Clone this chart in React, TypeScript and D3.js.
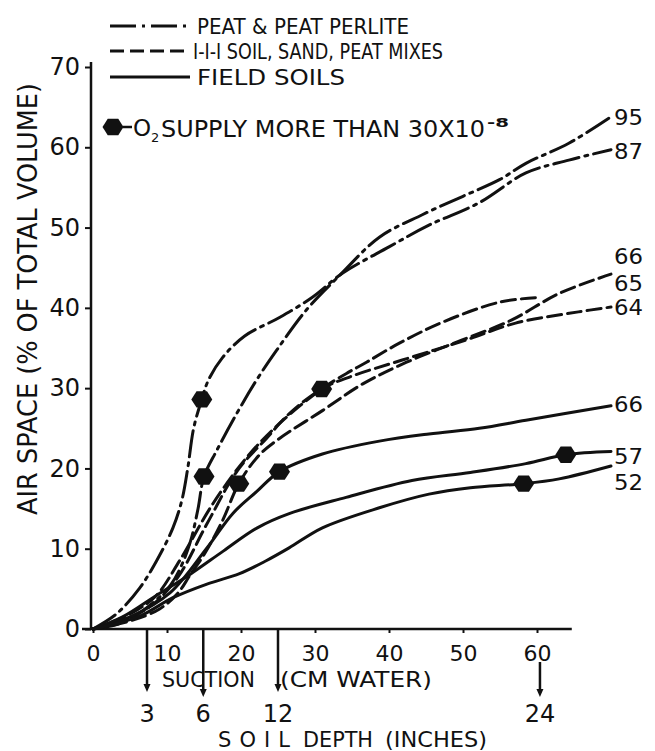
import React, { useEffect, useRef } from 'react';
import * as d3 from 'd3';

type Pt = [number, number];

// suction (cm water) -> air space (% of total volume)
const peat95: Pt[] = [
  [0, 0], [4, 0.8], [8, 3.2], [10.5, 5.5], [12, 8], [13.2, 11], [14.2, 15], [15, 19],
  [16.7, 22.2], [19.4, 26.8], [22.1, 31], [24.8, 34.7], [28.8, 39.7], [33.5, 44.2],
  [38.7, 48.8], [44.5, 51.6], [50, 53.9], [55, 56], [58.5, 58], [64.3, 60.5], [70, 63.8],
];
const peat87: Pt[] = [
  [0, 0], [3.2, 1.9], [6.3, 5.1], [8.6, 8.5], [10.8, 12.6], [12, 16], [12.8, 20], [13.6, 25],
  [14.7, 28.6], [15.6, 31], [17.5, 33.8], [20.5, 36.5], [25.2, 38.8], [29.6, 41.3],
  [33.7, 44.3], [40, 47.6], [45.4, 50.3], [52.2, 53.1], [58.5, 56.8], [64.3, 58.4], [70, 59.7],
];
const mix66: Pt[] = [
  [0, 0], [3, 1], [6, 2.4], [8.6, 4.2], [11.7, 8.5], [16.2, 15.6], [20.8, 21.4], [25.2, 25.6],
  [30.9, 29.9], [34.2, 31.8], [36.9, 33.2], [41.4, 35.6], [47.2, 38.2], [54.9, 40.7], [60.2, 41.3],
];
const mix65: Pt[] = [
  [0, 0], [5, 1], [9, 2.5], [11.5, 4.5], [13.1, 6.7], [15.1, 9.4], [17.5, 13.5], [19.7, 18.1],
  [22.3, 21.5], [25, 23.6], [31, 27.2], [36.4, 30.5], [42.3, 33.2], [49.9, 36], [56.6, 38.5],
  [63, 41.8], [70, 44.2],
];
const mix64: Pt[] = [
  [0, 0], [4, 1], [8, 3], [11.5, 6.5], [15.4, 13.1], [19.5, 19.7], [23.5, 23.8], [26.5, 26.8],
  [30.9, 29.9], [35, 31.5], [41.8, 33.5], [50.4, 36], [57.1, 38.1], [65.6, 39.5], [70, 40.1],
];
const field66: Pt[] = [
  [0, 0], [5, 1.5], [10.4, 4.5], [15.4, 10.1], [18.9, 14.4], [22.1, 17.1], [25.2, 19.6],
  [31, 21.8], [38.7, 23.4], [45.4, 24.3], [52.2, 25], [58.5, 26], [70, 27.8],
];
const field57: Pt[] = [
  [0, 0], [4, 1.5], [8.6, 4.2], [13.1, 6.8], [17.6, 9.7], [22.2, 12.6], [26.6, 14.4],
  [34.2, 16.4], [43.1, 18.5], [51, 19.5], [58.5, 20.6], [63.9, 21.7], [70, 22.1],
];
const field52: Pt[] = [
  [0, 0], [6.3, 1.6], [10.8, 3.9], [15.4, 5.6], [19.8, 6.9], [23.4, 8.5], [26.5, 10.1],
  [31, 12.6], [38.7, 15.1], [45.4, 16.8], [51, 17.6], [58.2, 18.1], [63, 18.7], [70, 20.3],
];

// O2 supply more than 30x10^-8
const o2Points: Pt[] = [
  [14.7, 28.6], [15, 19], [19.7, 18.1], [25.2, 19.6], [30.9, 29.9], [58.2, 18.1], [63.9, 21.7],
];

const rightLabels = ['95', '87', '66', '65', '64', '66', '57', '52'];
const rightLabelAt = [63.8, 59.5, 46.5, 43.1, 40.1, 28.0, 21.5, 18.3];

const legendLabels = ['PEAT & PEAT PERLITE', 'I-I-I SOIL, SAND, PEAT MIXES', 'FIELD SOILS'];

const xTicks = [0, 10, 20, 30, 40, 50, 60];
const yTicks = [0, 10, 20, 30, 40, 50, 60, 70];

// soil depth (inches) and the suction it corresponds to
const depthInches = [3, 6, 12, 24];
const depthSuction = [7.3, 14.9, 25, 60.4];

const DASH: Record<string, string> = { peat: '26,6,3,6', mix: '14,6', field: '' };

const series = [
  { kind: 'peat', points: peat95 },
  { kind: 'peat', points: peat87 },
  { kind: 'mix', points: mix66 },
  { kind: 'mix', points: mix65 },
  { kind: 'mix', points: mix64 },
  { kind: 'field', points: field66 },
  { kind: 'field', points: field57 },
  { kind: 'field', points: field52 },
];

const FONT = '"DejaVu Sans", "Liberation Sans", sans-serif';
const INK = '#111';

const hexPath = (r: number) => {
  const pts = d3.range(6).map(i => {
    const a = (Math.PI / 3) * i;
    return [r * Math.cos(a), r * 0.9 * Math.sin(a)];
  });
  return 'M' + pts.map(p => p.join(',')).join('L') + 'Z';
};

const App: React.FC = () => {
  const svgRef = useRef<SVGSVGElement>(null);

  useEffect(() => {
    if (!svgRef.current) return;
    const svg = d3.select(svgRef.current);
    svg.selectAll('*').remove();

    const x = d3.scaleLinear().domain([0, 70]).range([93, 611]);
    const y = d3.scaleLinear().domain([0, 70]).range([629, 67]);

    const txt = (sel: d3.Selection<SVGTextElement, unknown, null, undefined>, size: number) =>
      sel.attr('font-family', FONT).attr('font-size', size).attr('fill', INK);

    // Y axis
    const yAxis = svg.append('g')
      .attr('transform', 'translate(91,0)')
      .call(d3.axisLeft(y).tickValues(yTicks).tickSize(6).tickPadding(5).tickFormat(d => String(d)));
    yAxis.select('.domain').remove();
    yAxis.selectAll('line').attr('stroke', INK).attr('stroke-width', 2);
    yAxis.selectAll('text').attr('font-family', FONT).attr('font-size', 24).attr('fill', INK);
    svg.append('line')
      .attr('x1', 91).attr('x2', 91)
      .attr('y1', y(0) + 1).attr('y2', y(70) - 5)
      .attr('stroke', INK).attr('stroke-width', 2.5);

    // X axis
    const xAxis = svg.append('g')
      .attr('transform', `translate(0,${y(0)})`)
      .call(d3.axisBottom(x).tickValues(xTicks).tickSize(4).tickPadding(12).tickFormat(d => String(d)));
    xAxis.select('.domain').remove();
    xAxis.selectAll('line').attr('stroke', INK).attr('stroke-width', 2);
    xAxis.selectAll('text').attr('font-family', FONT).attr('font-size', 22).attr('fill', INK);
    svg.append('line')
      .attr('x1', 82).attr('x2', x(64.7))
      .attr('y1', y(0)).attr('y2', y(0))
      .attr('stroke', INK).attr('stroke-width', 2.5);

    // Axis titles
    txt(svg.append('text'), 26)
      .attr('transform', `translate(37,${299}) rotate(-90)`)
      .attr('text-anchor', 'middle')
      .attr('textLength', 432)
      .attr('lengthAdjust', 'spacingAndGlyphs')
      .text('AIR SPACE  (% OF TOTAL VOLUME)');

    txt(svg.append('text'), 21)
      .attr('x', 162).attr('y', 687)
      .attr('textLength', 93).attr('lengthAdjust', 'spacingAndGlyphs')
      .text('SUCTION');
    txt(svg.append('text'), 21)
      .attr('x', 280).attr('y', 687)
      .attr('textLength', 152).attr('lengthAdjust', 'spacingAndGlyphs')
      .text('(CM  WATER)');

    // Soil depth arrows
    depthSuction.forEach((s, i) => {
      const px = x(s);
      const nearTick = xTicks.some(t => t > 0 && Math.abs(t - s) < 1.5);
      const y1 = nearTick ? 662 : y(0) + 1;
      const tip = i === 1 || i === 3 ? 697 : 692;
      svg.append('line')
        .attr('x1', px).attr('x2', px)
        .attr('y1', y1).attr('y2', tip - 4)
        .attr('stroke', INK).attr('stroke-width', 2.5);
      svg.append('path')
        .attr('d', `M${px - 3.5},${tip - 8}L${px + 3.5},${tip - 8}L${px},${tip}Z`)
        .attr('fill', INK);
      txt(svg.append('text'), 24)
        .attr('x', px).attr('y', 722)
        .attr('text-anchor', 'middle')
        .text(String(depthInches[i]));
    });

    [['SOIL', 218, 72], ['DEPTH', 303, 70], ['(INCHES)', 385, 102]].forEach(([t, px, len]) => {
      txt(svg.append('text'), 21)
        .attr('x', px as number).attr('y', 747)
        .attr('textLength', len as number)
        .attr('lengthAdjust', t === 'SOIL' ? 'spacing' : 'spacingAndGlyphs')
        .text(t as string);
    });

    // Curves
    const line = d3.line<Pt>()
      .x(d => x(d[0]))
      .y(d => y(d[1]))
      .curve(d3.curveCatmullRom.alpha(0.5));

    series.forEach(s => {
      svg.append('path')
        .datum(s.points)
        .attr('fill', 'none')
        .attr('stroke', INK)
        .attr('stroke-width', 3)
        .attr('stroke-linecap', 'round')
        .attr('stroke-dasharray', DASH[s.kind])
        .attr('d', line);
    });

    // O2 markers
    svg.selectAll('.o2')
      .data(o2Points)
      .enter()
      .append('path')
      .attr('class', 'o2')
      .attr('d', hexPath(10.5))
      .attr('transform', d => `translate(${x(d[0])},${y(d[1])})`)
      .attr('fill', INK);

    // End labels
    rightLabels.forEach((t, i) => {
      txt(svg.append('text'), 22)
        .attr('x', x(70) + 3)
        .attr('y', y(rightLabelAt[i]) + 8)
        .attr('textLength', 29).attr('lengthAdjust', 'spacingAndGlyphs')
        .text(t);
    });

    // Legend
    const legendY = [26, 51, 77];
    const legendLen = [212, 250, 148];
    const legendX = [197, 193, 197];
    ['peat', 'mix', 'field'].forEach((k, i) => {
      svg.append('line')
        .attr('x1', 110).attr('x2', 190)
        .attr('y1', legendY[i]).attr('y2', legendY[i])
        .attr('stroke', INK).attr('stroke-width', 3)
        .attr('stroke-dasharray', DASH[k]);
      txt(svg.append('text'), 21)
        .attr('x', legendX[i]).attr('y', legendY[i] + 7.5)
        .attr('textLength', legendLen[i]).attr('lengthAdjust', 'spacingAndGlyphs')
        .text(legendLabels[i]);
    });

    svg.append('path')
      .attr('d', hexPath(10.5))
      .attr('transform', 'translate(113,127)')
      .attr('fill', INK);
    svg.append('line')
      .attr('x1', 123).attr('x2', 132)
      .attr('y1', 127).attr('y2', 127)
      .attr('stroke', INK).attr('stroke-width', 2.5);
    const o2 = txt(svg.append('text'), 23).attr('x', 133).attr('y', 136);
    o2.append('tspan').text('O');
    o2.append('tspan').attr('font-size', 13).attr('dy', 6).text('2');
    txt(svg.append('text'), 23)
      .attr('x', 161).attr('y', 137)
      .attr('textLength', 324).attr('lengthAdjust', 'spacingAndGlyphs')
      .text('SUPPLY MORE THAN 30X10');
    txt(svg.append('text'), 13)
      .attr('x', 487).attr('y', 127)
      .attr('font-weight', 'bold')
      .attr('textLength', 22).attr('lengthAdjust', 'spacingAndGlyphs')
      .text('-8');
  }, []);

  return (
    <svg
      ref={svgRef}
      width={655}
      height={751}
      style={{ position: 'absolute', left: 0, top: 0, background: '#fff', display: 'block' }}
    />
  );
};

export default App;
